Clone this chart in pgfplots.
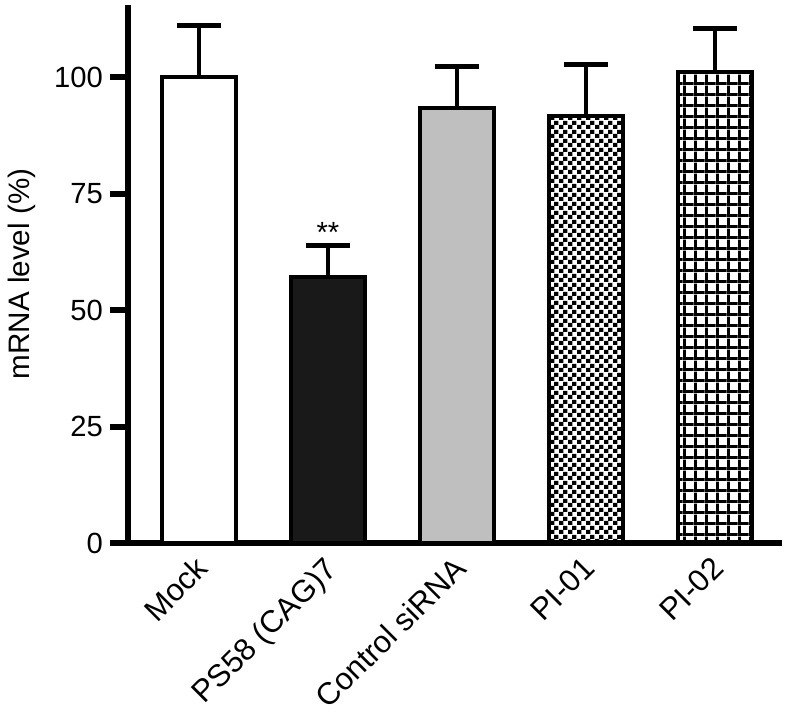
\documentclass[border=0pt]{standalone}
\usepackage{fontspec}
\setmainfont{Liberation Sans}
\usepackage{pgfplots}
\pgfplotsset{compat=1.18}
\usetikzlibrary{patterns}

% small checkerboard for PI-01
\pgfdeclarepatternformonly{finechecker}{\pgfpointorigin}{\pgfqpoint{4.3pt}{4.3pt}}{\pgfqpoint{4.3pt}{4.3pt}}{%
  \pgfpathrectangle{\pgfpointorigin}{\pgfqpoint{2.2pt}{2.2pt}}%
  \pgfpathrectangle{\pgfqpoint{2.15pt}{2.15pt}}{\pgfqpoint{2.15pt}{2.15pt}}%
  \pgfusepath{fill}}
% thick square grid for PI-02
\pgfdeclarepatternformonly{thickgrid}{\pgfpointorigin}{\pgfqpoint{5.6pt}{5.6pt}}{\pgfqpoint{5.6pt}{5.6pt}}{%
  \pgfpathrectangle{\pgfpointorigin}{\pgfqpoint{5.6pt}{1.5pt}}%
  \pgfpathrectangle{\pgfpointorigin}{\pgfqpoint{1.5pt}{5.6pt}}%
  \pgfusepath{fill}}

\newcommand{\lbl}{\fontsize{14.6}{17}\selectfont}
\newcommand{\xlbl}{\fontsize{15.5}{18}\selectfont}

\begin{document}
\begin{tikzpicture}
\begin{axis}[
  scale only axis,
  width=327pt, height=269pt,
  xmin=-0.55, xmax=4.52,
  ymin=0, ymax=115.5,
  axis lines=left,
  axis line style={-, line width=3pt},
  ytick={0,25,50,75,100},
  xtick={0,1,2,3,4},
  xticklabels={Mock, PS58 (CAG)7, Control siRNA, PI-01, PI-02},
  tick align=outside,
  major tick length=9pt,
  ytick style={line width=3pt, black},
  xtick style={draw=none},
  /pgf/number format/assume math mode=true,
  yticklabel style={font=\lbl},
  xticklabel style={font=\xlbl, xshift=-2.5pt, yshift=8pt, rotate=45, anchor=north east},
  ylabel={mRNA level (\%)},
  every axis y label/.style={at={(axis description cs:-0.162,0.5)}, rotate=90, anchor=center, font=\fontsize{14.8}{17}\selectfont},
  ybar, bar width=37pt,
  clip=false,
  error bars/y dir=plus, error bars/y explicit,
  error bars/error bar style={line width=2pt, black},
  error bars/error mark options={rotate=90, mark size=11pt, line width=2.5pt, black},
]
\addplot[bar shift=0pt, draw=black, line width=2pt, fill=white]
  coordinates {(0,100) +- (0,11.1)};
\addplot[bar shift=0pt, draw=black, line width=2pt, fill=black!90]
  coordinates {(1,57.0) +- (0,6.9)};
\addplot[bar shift=0pt, draw=black, line width=2pt, fill=black!25]
  coordinates {(2,93.4) +- (0,8.8)};
\addplot[bar shift=0pt, draw=black, line width=2pt, pattern=finechecker]
  coordinates {(3,91.6) +- (0,11.1)};
\addplot[bar shift=0pt, draw=black, line width=2pt, pattern=thickgrid]
  coordinates {(4,101.1) +- (0,9.3)};
\node[font=\lbl, anchor=base] at (axis cs:1,64.6) {**};
\coordinate (O) at (rel axis cs:0,0);
\end{axis}
\pgfresetboundingbox
\path (O) ++(-64pt,271.5pt) rectangle ++(393.5pt,-357.5pt);
\end{tikzpicture}
\end{document}
